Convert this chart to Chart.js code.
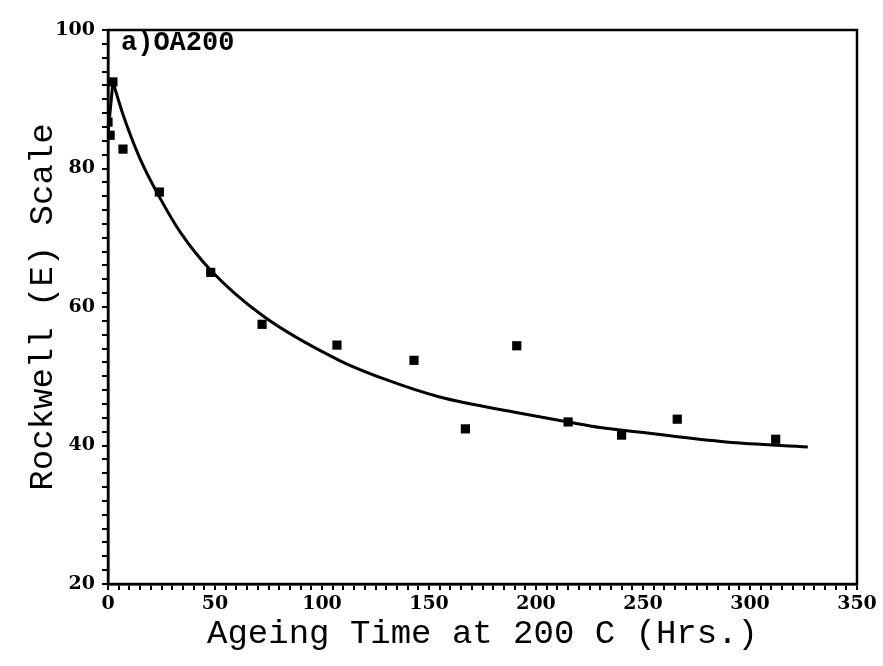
<!DOCTYPE html>
<html>
<head>
<meta charset="utf-8">
<script src="https://cdn.jsdelivr.net/npm/chart.js@4"></script>
<style>
  html, body { margin: 0; padding: 0; background: #fff; }
  #wrap { width: 883px; height: 666px; }
</style>
</head>
<body>
<div id="wrap"><canvas id="GraficoDureza"></canvas></div>
<script>
// measured hardness, ageing at 200 C
var horas = [0, 1, 2.3, 7, 24, 48, 72, 107, 143, 167, 191, 215, 240, 266, 312];
var dureza = [86.7, 84.8, 92.5, 82.8, 76.6, 65, 57.5, 54.5, 52.3, 42.4, 54.4, 43.4, 41.5, 43.8, 40.9];

// fitted curve (first segment is the rise to the peak)
var ajusteX = [0, 2.3, 7, 15, 24, 34, 48, 72, 108, 130, 155, 192, 215, 230, 249, 289, 327];
var ajusteY = [85, 92.5, 87.8, 81.4, 75.9, 70.7, 65.3, 58.8, 52.3, 49.5, 47, 44.7, 43.4, 42.6, 41.9, 40.5, 39.8];

var etiquetaX = [0, 50, 100, 150, 200, 250, 300, 350];
var etiquetaY = [20, 40, 60, 80, 100];

function pares(xs, ys) {
  return xs.map(function (x, i) { return { x: x, y: ys[i] }; });
}

var curva = pares(ajusteX, ajusteY);

// box around the plot and the panel label
var marco = {
  id: 'marco',
  afterDraw: function (chart) {
    var a = chart.chartArea;
    var c = chart.ctx;
    c.save();
    c.strokeStyle = '#000';
    c.lineWidth = 2.5;
    c.strokeRect(a.left, a.top, a.right - a.left, a.bottom - a.top);
    c.fillStyle = '#000';
    c.font = 'bold 27px "Liberation Mono"';
    c.textBaseline = 'middle';
    c.fillText('a)OA200', a.left + 13, a.top + 13);
    c.restore();
  }
};

var linea = {
  type: 'line',
  borderColor: '#000',
  borderWidth: 3,
  pointRadius: 0,
  fill: false,
  cubicInterpolationMode: 'monotone'
};

var ctx1 = document.getElementById('GraficoDureza').getContext('2d');
var GraficoDureza = new Chart(ctx1, {
  type: 'scatter',
  data: {
    datasets: [
      Object.assign({ label: 'subida', data: curva.slice(0, 2) }, linea),
      Object.assign({ label: 'ajuste', data: curva.slice(1) }, linea),
      {
        label: 'medido',
        data: pares(horas, dureza),
        backgroundColor: '#000',
        borderColor: '#000',
        pointStyle: 'rect',
        pointRadius: 6.5,
        borderWidth: 0
      }
    ]
  },
  plugins: [marco],
  options: {
    responsive: true,
    maintainAspectRatio: false,
    animation: false,
    layout: { padding: { top: 30, right: 26, left: 0, bottom: 0 } },
    plugins: { legend: { display: false }, tooltip: { enabled: false } },
    scales: {
      x: {
        type: 'linear',
        min: 0,
        max: 350,
        afterFit: function (s) { s.height = 82; },
        ticks: {
          stepSize: 5,
          maxTicksLimit: 200,
          autoSkip: false,
          maxRotation: 0,
          padding: 3,
          color: '#000',
          font: { family: 'DejaVu Serif', weight: 'bold', size: 19 },
          callback: function (v) { return etiquetaX.indexOf(v) >= 0 ? String(v) : ''; }
        },
        grid: { drawOnChartArea: false, drawTicks: true, tickLength: 6, color: '#000', lineWidth: 2 },
        border: { color: '#000', width: 2.5 },
        title: {
          display: true,
          text: 'Ageing Time at 200 C (Hrs.)',
          color: '#000',
          font: { family: 'Liberation Mono', size: 34 },
          padding: { top: 0, bottom: 12 }
        }
      },
      y: {
        min: 20,
        max: 100,
        afterFit: function (s) { s.width = 108; },
        ticks: {
          stepSize: 2,
          maxTicksLimit: 200,
          autoSkip: false,
          padding: 7,
          color: '#000',
          font: { family: 'DejaVu Serif', weight: 'bold', size: 19 },
          callback: function (v) { return etiquetaY.indexOf(v) >= 0 ? String(v) : ''; }
        },
        grid: { drawOnChartArea: false, drawTicks: true, tickLength: 6, color: '#000', lineWidth: 2 },
        border: { color: '#000', width: 2.5 },
        title: {
          display: true,
          text: 'Rockwell (E) Scale',
          color: '#000',
          font: { family: 'Liberation Mono', size: 34 },
          padding: { top: 23, bottom: 0 }
        }
      }
    }
  }
});
</script>
</body>
</html>
